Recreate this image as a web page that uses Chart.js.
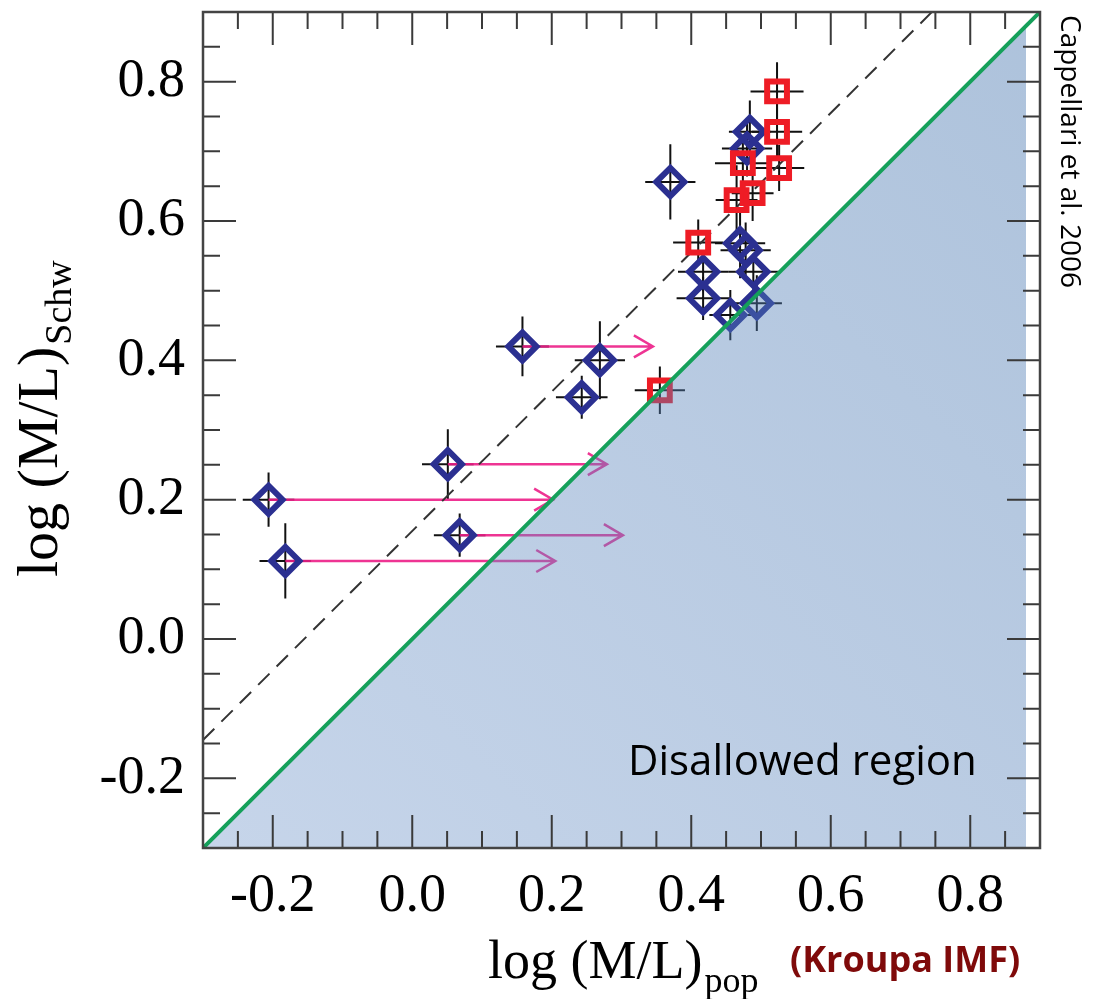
<!DOCTYPE html>
<html>
<head>
<meta charset="utf-8">
<script src="https://cdn.jsdelivr.net/npm/chart.js@4.4.1/dist/chart.umd.min.js"></script>
<style>
  html, body { margin: 0; padding: 0; background: #fff; }
  #wrap { width: 1097px; height: 999px; }
</style>
</head>
<body>
<div id="wrap"><canvas id="chart"></canvas></div>
<script>
// blue diamonds (log M/L pop, log M/L Schw) with errors
const diamondX = [-0.206, -0.182, 0.051, 0.068, 0.158, 0.269, 0.243, 0.370, 0.417, 0.417, 0.456, 0.470, 0.478, 0.489, 0.494, 0.484, 0.480];
const diamondY = [0.200, 0.112, 0.251, 0.149, 0.420, 0.400, 0.347, 0.656, 0.527, 0.489, 0.465, 0.568, 0.558, 0.527, 0.482, 0.728, 0.704];
const diamondXErr = [0.037, 0.037, 0.037, 0.037, 0.038, 0.036, 0.037, 0.036, 0.036, 0.038, 0.030, 0.036, 0.036, 0.036, 0.036, 0.030, 0.036];
const diamondYErr = [0.039, 0.054, 0.050, 0.031, 0.043, 0.056, 0.031, 0.054, 0.028, 0.031, 0.036, 0.050, 0.040, 0.026, 0.040, 0.045, 0.040];

// red squares
const squareX = [0.523, 0.523, 0.474, 0.526, 0.488, 0.465, 0.410, 0.355];
const squareY = [0.786, 0.728, 0.683, 0.676, 0.640, 0.630, 0.569, 0.357];
const squareXErr = [0.038, 0.036, 0.040, 0.036, 0.030, 0.030, 0.036, 0.036];
const squareYErr = [0.042, 0.040, 0.040, 0.033, 0.040, 0.050, 0.033, 0.034];

// pink arrows (shift in M/L pop)
const arrowFromX = [-0.206, -0.182, 0.051, 0.068, 0.158];
const arrowToX = [0.202, 0.205, 0.279, 0.302, 0.345];
const arrowY = [0.200, 0.112, 0.251, 0.149, 0.420];

// reference lines
const oneToOneX = [-0.3, 0.9];
const oneToOneY = [-0.3, 0.9];
const dashedX = [-0.3, 0.745];
const dashedY = [-0.145, 0.9];
const shadeX = [-0.3, 0.88];
const shadeY = [-0.3, 0.88];

const tickLabels = ['-0.2', '0.0', '0.2', '0.4', '0.6', '0.8'];

const pts = (xs, ys) => xs.map((x, i) => ({ x: x, y: ys[i] }));
const isMajor = v => tickLabels.includes(v.toFixed(1)) && Math.abs(v * 5 - Math.round(v * 5)) < 1e-6;

const serif = '"Liberation Serif", "Times New Roman", serif';
const sans = '"Open Sans", "Liberation Sans", sans-serif';

const extras = {
    id: 'extras',
    beforeDatasetsDraw(chart) {
        const ctx = chart.ctx;
        const xs = chart.scales.x, ys = chart.scales.y;
        ctx.save();
        // error bars
        ctx.strokeStyle = '#111';
        ctx.lineWidth = 2;
        const bars = (X, Y, XE, YE) => {
            X.forEach((x, i) => {
                const px = xs.getPixelForValue(x), py = ys.getPixelForValue(Y[i]);
                ctx.beginPath();
                ctx.moveTo(xs.getPixelForValue(x - XE[i]), py);
                ctx.lineTo(xs.getPixelForValue(x + XE[i]), py);
                ctx.moveTo(px, ys.getPixelForValue(Y[i] - YE[i]));
                ctx.lineTo(px, ys.getPixelForValue(Y[i] + YE[i]));
                ctx.stroke();
            });
        };
        bars(diamondX, diamondY, diamondXErr, diamondYErr);
        bars(squareX, squareY, squareXErr, squareYErr);
        // arrows
        ctx.strokeStyle = 'rgba(236, 30, 135, 0.9)';
        ctx.lineWidth = 2.5;
        arrowY.forEach((y, i) => {
            const py = ys.getPixelForValue(y);
            const x0 = xs.getPixelForValue(arrowFromX[i]);
            const x1 = xs.getPixelForValue(arrowToX[i]);
            ctx.beginPath();
            ctx.moveTo(x0, py);
            ctx.lineTo(x1, py);
            ctx.moveTo(x1 - 19, py - 11);
            ctx.lineTo(x1, py);
            ctx.lineTo(x1 - 19, py + 11);
            ctx.stroke();
        });
        ctx.restore();
    },
    afterDraw(chart) {
        const ctx = chart.ctx;
        const a = chart.chartArea;
        const xs = chart.scales.x, ys = chart.scales.y;
        ctx.save();
        // inward ticks on all four sides
        ctx.strokeStyle = '#3a3a3a';
        ctx.lineWidth = 2;
        ctx.beginPath();
        xs.ticks.forEach(t => {
            const px = xs.getPixelForValue(t.value);
            if (px <= a.left + 1 || px >= a.right - 1) return;
            const len = isMajor(t.value) ? 33 : 17;
            ctx.moveTo(px, a.bottom); ctx.lineTo(px, a.bottom - len);
            ctx.moveTo(px, a.top); ctx.lineTo(px, a.top + len);
        });
        ys.ticks.forEach(t => {
            const py = ys.getPixelForValue(t.value);
            if (py <= a.top + 1 || py >= a.bottom - 1) return;
            const len = isMajor(t.value) ? 33 : 17;
            ctx.moveTo(a.left, py); ctx.lineTo(a.left + len, py);
            ctx.moveTo(a.right, py); ctx.lineTo(a.right - len, py);
        });
        ctx.stroke();
        // frame
        ctx.strokeStyle = '#444';
        ctx.lineWidth = 2.5;
        ctx.strokeRect(a.left, a.top, a.right - a.left, a.bottom - a.top);

        // axis titles with subscripts
        ctx.fillStyle = '#000';
        ctx.textBaseline = 'alphabetic';
        ctx.textAlign = 'left';
        ctx.font = '54px ' + serif;
        const xt = 'log (M/L)';
        ctx.fillText(xt, 488, 978);
        const xw = ctx.measureText(xt).width;
        ctx.font = '36px ' + serif;
        ctx.fillText('pop', 488 + xw + 2, 992);

        ctx.fillStyle = '#7f0a0a';
        ctx.font = 'bold 36px ' + sans;
        ctx.textBaseline = 'middle';
        ctx.fillText('(Kroupa IMF)', 790, 962);

        ctx.save();
        ctx.translate(57, 577);
        ctx.rotate(-Math.PI / 2);
        ctx.fillStyle = '#000';
        ctx.textBaseline = 'alphabetic';
        ctx.font = '58px ' + serif;
        const yt = 'log (M/L)';
        ctx.fillText(yt, 0, 0);
        const yw = ctx.measureText(yt).width;
        ctx.font = '38px ' + serif;
        ctx.fillText('Schw', yw + 2, 14);
        ctx.restore();

        // side credit
        ctx.save();
        ctx.translate(1061, 15);
        ctx.rotate(Math.PI / 2);
        ctx.fillStyle = '#000';
        ctx.font = '28px ' + sans;
        ctx.textBaseline = 'alphabetic';
        ctx.fillText('Cappellari et al. 2006', 0, 0);
        ctx.restore();

        // region label
        ctx.fillStyle = '#000';
        ctx.font = '42px ' + sans;
        ctx.textBaseline = 'alphabetic';
        ctx.fillText('Disallowed region', 628, 775);
        ctx.restore();
    }
};

const axisTicks = {
    stepSize: 0.05,
    font: { family: serif, size: 54 },
    color: '#000',
    callback: v => isMajor(v) ? v.toFixed(1) : ''
};

new Chart(document.getElementById('chart'), {
    type: 'scatter',
    data: {
        datasets: [
            {
                type: 'line',
                data: pts(dashedX, dashedY),
                borderColor: '#333',
                borderWidth: 2,
                borderDash: [16, 10],
                pointRadius: 0,
                fill: false,
                order: 6
            },
            {
                data: pts(diamondX, diamondY),
                pointStyle: 'rectRot',
                pointRadius: 14,
                borderWidth: 6,
                borderColor: '#2b3091',
                backgroundColor: 'rgba(0,0,0,0)',
                order: 5
            },
            {
                data: pts(squareX, squareY),
                pointStyle: 'rect',
                pointRadius: 14,
                borderWidth: 6,
                borderColor: '#ee1c25',
                backgroundColor: 'rgba(0,0,0,0)',
                order: 4
            },
            {
                type: 'line',
                data: pts(shadeX, shadeY),
                borderWidth: 0,
                pointRadius: 0,
                fill: 'start',
                backgroundColor: c => {
                    const a = c.chart.chartArea;
                    if (!a) return 'rgba(90,130,185,0.42)';
                    const g = c.chart.ctx.createLinearGradient(a.left, a.bottom, a.right, a.top);
                    g.addColorStop(0, 'rgba(120,155,205,0.42)');
                    g.addColorStop(1, 'rgba(60,110,170,0.42)');
                    return g;
                },
                order: 2
            },
            {
                type: 'line',
                data: pts(oneToOneX, oneToOneY),
                borderColor: '#15a05a',
                borderWidth: 4,
                pointRadius: 0,
                fill: false,
                order: 1
            }
        ]
    },
    options: {
        responsive: true,
        maintainAspectRatio: false,
        animation: false,
        layout: { autoPadding: false, padding: { top: 12, right: 57, left: 0, bottom: 0 } },
        plugins: { legend: { display: false }, tooltip: { enabled: false } },
        scales: {
            x: {
                type: 'linear',
                min: -0.3, max: 0.9,
                grid: { display: false, drawTicks: false },
                border: { display: false },
                ticks: Object.assign({ padding: 16, maxRotation: 0, autoSkip: false }, axisTicks),
                afterFit: s => { s.height = 151; s.paddingLeft = 0; s.paddingRight = 0; }
            },
            y: {
                type: 'linear',
                min: -0.3, max: 0.9,
                grid: { display: false, drawTicks: false },
                border: { display: false },
                ticks: Object.assign({ padding: 18, autoSkip: false }, axisTicks),
                afterFit: s => { s.width = 203; s.paddingTop = 0; s.paddingBottom = 0; }
            }
        }
    },
    plugins: [extras]
});
</script>
</body>
</html>
